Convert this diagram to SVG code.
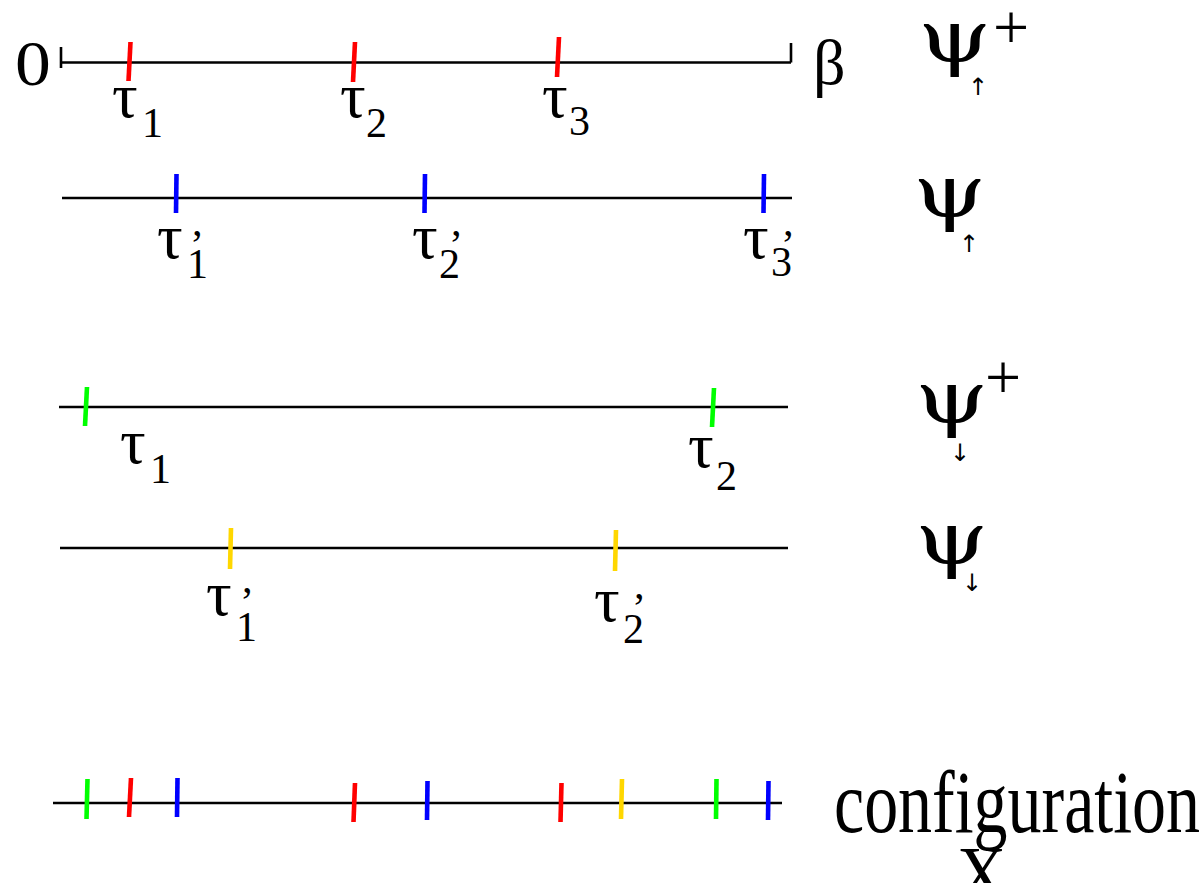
<svg xmlns="http://www.w3.org/2000/svg" width="1201" height="883" viewBox="0 0 1201 883">
<style>
.ax{stroke:#000;stroke-width:2.6;fill:none}
.tk{stroke-width:4.6;fill:none}
.r{stroke:#ff0000}.b{stroke:#0000ff}.g{stroke:#00ff00}.y{stroke:#ffd700}
text{font-family:"Liberation Serif","Times New Roman",serif;fill:#000}
.t{font-size:64px}
.s{font-size:42px}
.q{font-size:73px;font-family:"DejaVu Serif",serif}
.pl{font-size:64px}
.ar{font-size:24px;font-family:"DejaVu Sans",sans-serif}
</style>
<rect width="1201" height="883" fill="#fff"/>
<g id="connectors">
<path class="ax" d="M61,47 V68 M61,62.5 H791 M791,43 V62.5"/>
<path class="ax" d="M62,198 H792"/>
<path class="ax" d="M59,407 H788"/>
<path class="ax" d="M60,548 H788"/>
<path class="ax" d="M53,803 H782"/>
</g>
<g id="row1">
<line class="tk r" x1="130.5" y1="42" x2="128.5" y2="81"/>
<line class="tk r" x1="355" y1="42" x2="353" y2="82"/>
<line class="tk r" x1="559" y1="37" x2="557" y2="77"/>
<text class="t" transform="translate(15,85) scale(1.12,1)">0</text>
<text x="813" y="84" class="t">β</text>
<text x="112" y="117" class="t">τ</text><text x="142" y="137" class="s">1</text>
<text x="340" y="117" class="t">τ</text><text x="366" y="137" class="s">2</text>
<text x="542" y="117" class="t">τ</text><text x="569" y="135" class="s">3</text>
<text class="q" transform="translate(918,62) scale(1.28,1)">ψ</text>
<text x="993" y="49" class="pl">+</text>
<text x="968" y="95" class="ar">↑</text>
</g>
<g id="row2">
<line class="tk b" x1="176.5" y1="174" x2="176" y2="213"/>
<line class="tk b" x1="425" y1="174" x2="424.5" y2="213"/>
<line class="tk b" x1="764" y1="174" x2="763.5" y2="213"/>
<text x="157" y="258" class="t">τ</text><text x="187" y="278" class="s">1</text><text x="190" y="259" class="s">’</text>
<text x="412" y="258" class="t">τ</text><text x="439" y="278" class="s">2</text><text x="449" y="259" class="s">’</text>
<text x="743" y="258" class="t">τ</text><text x="771" y="276" class="s">3</text><text x="781" y="259" class="s">’</text>
<text class="q" transform="translate(913,217) scale(1.28,1)">ψ</text>
<text x="959" y="252" class="ar">↑</text>
</g>
<g id="row3">
<line class="tk g" x1="87" y1="387" x2="85" y2="426"/>
<line class="tk g" x1="714" y1="388" x2="712" y2="427"/>
<text x="120" y="463" class="t">τ</text><text x="150" y="483" class="s">1</text>
<text x="688" y="467" class="t">τ</text><text x="716" y="490" class="s">2</text>
<text class="q" transform="translate(915,423) scale(1.28,1)">ψ</text>
<text x="985" y="399" class="pl">+</text>
<text x="950" y="461" class="ar">↓</text>
</g>
<g id="row4">
<line class="tk y" x1="231" y1="528" x2="230" y2="569"/>
<line class="tk y" x1="616" y1="530" x2="615" y2="571"/>
<text x="206" y="615" class="t">τ</text><text x="236" y="641" class="s">1</text><text x="240" y="616" class="s">’</text>
<text x="594" y="621" class="t">τ</text><text x="623" y="643" class="s">2</text><text x="632" y="622" class="s">’</text>
<text class="q" transform="translate(915,564) scale(1.28,1)">ψ</text>
<text x="962" y="591" class="ar">↓</text>
</g>
<g id="configuration">
<line class="tk g" x1="87.5" y1="779" x2="86.5" y2="819"/>
<line class="tk r" x1="131" y1="778" x2="129" y2="817"/>
<line class="tk b" x1="177.5" y1="778" x2="177" y2="817"/>
<line class="tk r" x1="355" y1="783" x2="353.5" y2="822"/>
<line class="tk b" x1="427.5" y1="781" x2="427" y2="820"/>
<line class="tk r" x1="561.5" y1="783" x2="560.5" y2="822"/>
<line class="tk y" x1="622" y1="779" x2="621" y2="819"/>
<line class="tk g" x1="716.5" y1="779" x2="716" y2="819"/>
<line class="tk b" x1="768.5" y1="781" x2="768" y2="820"/>
<text transform="translate(834,832) scale(1,1.32)" font-size="68" textLength="366" lengthAdjust="spacingAndGlyphs">configuration</text>
<text transform="translate(957,900) scale(1,1.15)" font-size="68">X</text>
</g>
</svg>
